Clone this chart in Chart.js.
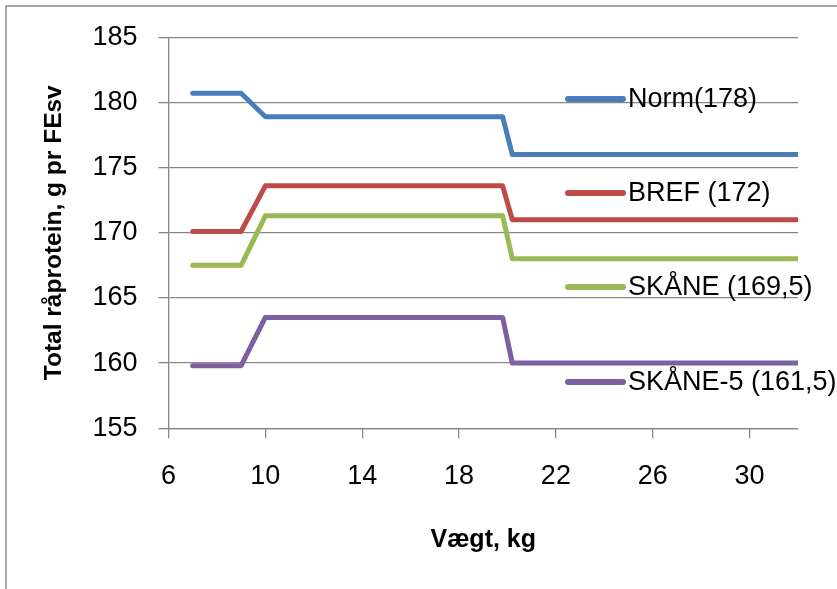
<!DOCTYPE html>
<html>
<head>
<meta charset="utf-8">
<script src="https://cdn.jsdelivr.net/npm/chart.js@4/dist/chart.umd.min.js"></script>
<style>
  html, body { margin: 0; padding: 0; background: #fff; }
  #wrap { width: 837px; height: 589px; position: relative; }
</style>
</head>
<body>
<div id="wrap"><canvas id="c" width="837" height="589"></canvas></div>
<script>
// ---- data ----
const weights = [7, 9, 10, 19.8, 20.2, 32];
const norm    = [180.7, 180.7, 178.9, 178.9, 176.0, 176.0];
const bref    = [170.1, 170.1, 173.6, 173.6, 171.0, 171.0];
const skane   = [167.5, 167.5, 171.3, 171.3, 168.0, 168.0];
const skane5  = [159.8, 159.8, 163.5, 163.5, 160.0, 160.0];
const seriesLabels = ['Norm(178)', 'BREF (172)', 'SKÅNE (169,5)', 'SKÅNE-5 (161,5)'];
const xTicks = [6, 10, 14, 18, 22, 26, 30];
const xTitle = 'Vægt, kg';
const yTitle = 'Total råprotein, g pr FEsv';

const colors = ['#4A7EBB', '#BE4B48', '#98B954', '#7D60A0'];
const gridColor = '#868686';
const FONT = "'Liberation Sans', Arial, sans-serif";

const toPts = ys => weights.map((x, i) => ({x: x, y: ys[i]}));
const allSeries = [norm, bref, skane, skane5];

const datasets = allSeries.map((ys, i) => ({
  label: seriesLabels[i],
  data: toPts(ys),
  borderColor: colors[i],
  backgroundColor: colors[i],
  borderWidth: 5,
  borderCapStyle: 'round',
  borderJoinStyle: 'round',
  pointRadius: 0,
  tension: 0,
  fill: false
}));

const framePlugin = {
  id: 'frame',
  beforeDraw(chart) {
    const ctx = chart.ctx;
    ctx.save();
    ctx.strokeStyle = '#8c8c8c';
    ctx.lineWidth = 1.5;
    ctx.beginPath();
    ctx.moveTo(6, 600);
    ctx.lineTo(6, 6);
    ctx.lineTo(840, 6);
    ctx.stroke();
    ctx.restore();
  }
};

const legendPlugin = {
  id: 'customLegend',
  afterDatasetsDraw(chart) {
    const ctx = chart.ctx;
    const x0 = 568, x1 = 623, tx = 628;
    const ys = [99, 193, 287, 382];
    ctx.save();
    chart.data.datasets.forEach((ds, i) => {
      ctx.strokeStyle = ds.borderColor;
      ctx.lineWidth = 6;
      ctx.lineCap = 'round';
      ctx.beginPath();
      ctx.moveTo(x0, ys[i]);
      ctx.lineTo(x1, ys[i]);
      ctx.stroke();
      ctx.fillStyle = '#000';
      ctx.font = '27px ' + FONT;
      ctx.textAlign = 'left';
      ctx.textBaseline = 'middle';
      ctx.fillText(ds.label, tx, ys[i] + 1);
    });
    ctx.restore();
  }
};

new Chart(document.getElementById('c'), {
  type: 'line',
  data: { datasets: datasets },
  plugins: [framePlugin, legendPlugin],
  options: {
    responsive: false,
    animation: false,
    layout: { padding: { top: 37, right: 39, left: 0, bottom: 0 } },
    plugins: { legend: { display: false }, tooltip: { enabled: false } },
    scales: {
      x: {
        type: 'linear',
        min: 6, max: 32,
        afterBuildTicks: s => { s.ticks = xTicks.map(v => ({value: v})); },
        afterFit: s => { s.height = 160.7; },
        grid: { drawOnChartArea: false, drawTicks: true, tickLength: 10, color: gridColor, lineWidth: 1.3 },
        border: { display: true, color: gridColor, width: 1.3 },
        ticks: { color: '#000', padding: 22, font: { family: FONT, size: 27 }, maxRotation: 0 },
        title: { display: true, text: xTitle, color: '#000', padding: { top: 0, bottom: 34 }, font: { family: FONT, size: 25, weight: 'bold' } }
      },
      y: {
        min: 155, max: 185,
        ticks: { stepSize: 5, color: '#000', padding: 21, font: { family: FONT, size: 27 } },
        afterFit: s => { s.width = 168.5; },
        grid: { drawOnChartArea: true, drawTicks: true, tickLength: 10, color: gridColor, lineWidth: 1.3 },
        border: { display: true, color: gridColor, width: 1.3 },
        title: { display: true, text: yTitle, color: '#000', padding: { top: 40, bottom: 0 }, font: { family: FONT, size: 24.5, weight: 'bold' } }
      }
    }
  }
});
</script>
</body>
</html>
